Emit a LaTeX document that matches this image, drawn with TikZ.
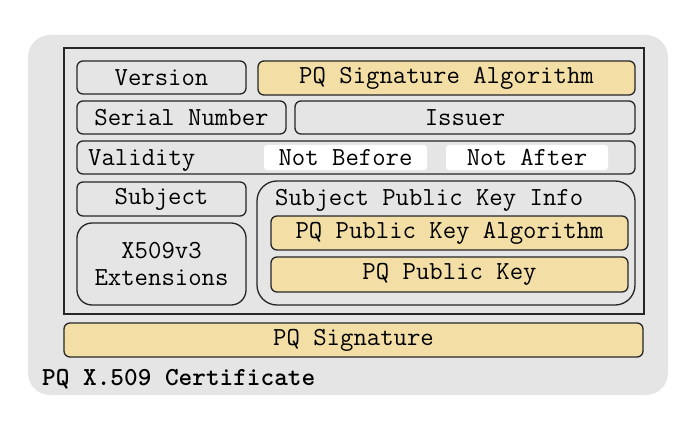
\documentclass[tikz,border=0pt]{standalone}
\usepackage{fontspec}
\definecolor{certgray}{HTML}{E5E5E5}
\definecolor{pqyellow}{HTML}{F3DFA6}
\tikzset{
  field/.style={draw=black!85, line width=1.3pt, fill=certgray, rounded corners=6pt, inner sep=0pt},
  pqfield/.style={field, fill=pqyellow},
  datebox/.style={fill=white, rounded corners=3pt, inner sep=0pt},
}
\begin{document}
\begin{tikzpicture}[x=1pt, y=-1pt, font=\ttfamily\fontsize{26}{29}\selectfont]
    \useasboundingbox (0,0) rectangle (700,422);

    % Certificate background
    \node[fill=certgray, rounded corners=22pt, minimum width=640pt, minimum height=360pt] (cert) at (348,215) {};
    \node[draw=black!85, line width=1.3pt, fill=certgray, minimum width=580pt, minimum height=266pt] (tbs) at (354,181) {};

    % First rows
    \node[field, minimum width=169pt, minimum height=33pt] (version) at (161.5,77.5) {Version};
    \node[pqfield, minimum width=377pt, minimum height=34pt] (sigalg) at (446.5,78) {PQ Signature Algorithm};
    \node[field, minimum width=209pt, minimum height=33pt] (serial) at (181.5,117.5) {Serial Number};
    \node[field, minimum width=340pt, minimum height=33pt] (issuer) at (465,117.5) {Issuer};

    % Validity with dates
    \node[field, minimum width=558pt, minimum height=33pt] (validity) at (356,157.5) {};
    \node[anchor=base west, inner sep=0pt] (validitylabel) at (88,165) {Validity};
    \node[datebox, minimum width=163pt, minimum height=25pt] (notbefore) at (345.5,157.5) {};
    \node[anchor=base, inner sep=0pt] at (345.5,165) {Not Before};
    \node[datebox, minimum width=162pt, minimum height=25pt] (notafter) at (527,157.5) {};
    \node[anchor=base, inner sep=0pt] at (527,165) {Not After};

    % Subject and extensions
    \node[field, minimum width=169pt, minimum height=34pt] (subject) at (161.5,199) {Subject};
    \node[field, rounded corners=15pt, minimum width=169pt, minimum height=82pt, align=center] (ext) at (161.5,264) {X509v3\\[-2pt]Extensions};

    % Public key info
    \node[field, rounded corners=20pt, minimum width=378pt, minimum height=124pt] (spki) at (446,243) {};
    \node[anchor=base west, inner sep=0pt] (spkilabel) at (275,205) {Subject Public Key Info};
    \node[pqfield, minimum width=357pt, minimum height=34pt] (pkalg) at (449.5,233) {PQ Public Key Algorithm};
    \node[pqfield, minimum width=357pt, minimum height=35pt] (pubkey) at (449.5,274.5) {PQ Public Key};

    % Signature and caption
    \node[pqfield, minimum width=579pt, minimum height=34pt] (sig) at (353.5,340) {PQ Signature};
    \node[anchor=base west, inner sep=0pt, font=\ttfamily\bfseries\fontsize{26}{29}\selectfont] (caption) at (42,385) {PQ X.509 Certificate};
\end{tikzpicture}
\end{document}
